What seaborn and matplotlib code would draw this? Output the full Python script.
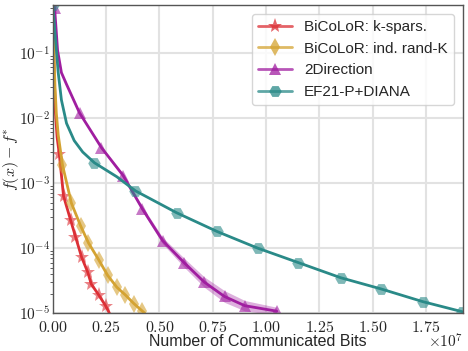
import numpy as np
import pandas as pd
import seaborn as sns
import matplotlib
matplotlib.use("Agg")
import matplotlib.pyplot as plt
from matplotlib.ticker import FuncFormatter, FixedLocator

# x in units of 1e7 communicated bits, y = f(x) - f*
red_x = [0.0, 0.004, 0.008, 0.012, 0.02, 0.03, 0.05, 0.083, 0.106, 0.135, 0.163, 0.18, 0.215, 0.247, 0.265]
red_y = [0.55, 0.12, 0.03, 0.012, 0.005, 2.8e-3, 6.3e-4, 2.7e-4, 1.5e-4, 7.2e-5, 4.3e-5, 2.8e-5, 1.9e-5, 1.3e-5, 1.0e-5]
red_mark = [5, 6, 7, 8, 9, 10, 11, 12, 13]

gold_x = [0.0, 0.004, 0.01, 0.016, 0.025, 0.045, 0.087, 0.13, 0.167, 0.215, 0.257, 0.3, 0.34, 0.38, 0.42, 0.43]
gold_y = [0.55, 0.12, 0.03, 0.012, 5.5e-3, 1.9e-3, 4.9e-4, 2.2e-4, 1.2e-4, 6.6e-5, 3.8e-5, 2.5e-5, 1.9e-5, 1.4e-5, 1.07e-5, 1.0e-5]
gold_mark = [5, 6, 7, 8, 9, 10, 11, 12, 13, 14]

purple_x = [0.0, 0.008, 0.022, 0.04, 0.064, 0.125, 0.228, 0.33, 0.42, 0.515, 0.617, 0.71, 0.805, 0.9, 1.05]
purple_y = [0.55, 0.5, 0.11, 0.05, 0.033, 0.012, 3.5e-3, 1.3e-3, 4.0e-4, 1.3e-4, 5.9e-5, 3.0e-5, 1.8e-5, 1.3e-5, 1.07e-5]
purple_spread = [0.0, 0.0, 0.0, 0.0, 0.0, 0.01, 0.02, 0.03, 0.04, 0.05, 0.07, 0.08, 0.09, 0.08, 0.06]
purple_mark = [1, 5, 6, 7, 8, 9, 10, 11, 12, 13, 14]

teal_x = [0.0, 0.01, 0.025, 0.04, 0.064, 0.1, 0.14, 0.195, 0.3, 0.387, 0.58, 0.77, 0.96, 1.15, 1.35, 1.54, 1.735, 1.92]
teal_y = [0.55, 0.2, 0.05, 0.019, 8.3e-3, 4.5e-3, 3.0e-3, 2.05e-3, 1.25e-3, 7.6e-4, 3.5e-4, 1.8e-4, 1.0e-4, 6.0e-5, 3.5e-5, 2.35e-5, 1.5e-5, 1.05e-5]
teal_mark = [0, 7, 9, 10, 11, 12, 13, 14, 15, 16, 17]

labels = ["BiCoLoR: k-spars.", "BiCoLoR: ind. rand-K", "2Direction", "EF21-P+DIANA"]
colors = ["#dc2f35", "#d4a332", "#a01ea0", "#2a8a88"]
markers = ["*", "d", "^", "H"]

sns.set_style("whitegrid")
plt.rcParams["font.family"] = ["Liberation Sans", "DejaVu Sans"]
plt.rcParams["mathtext.fontset"] = "cm"

fig = plt.figure(figsize=(4.68, 3.51), dpi=100)
ax = fig.add_axes([0.113, 0.108, 0.876, 0.878])

series = [(red_x, red_y, red_mark), (gold_x, gold_y, gold_mark),
          (purple_x, purple_y, purple_mark), (teal_x, teal_y, teal_mark)]
for (xs, ys, mk), lab, c, m in zip(series, labels, colors, markers):
    df = pd.DataFrame({"bits": xs, "gap": ys})
    ms = 11 if m == "*" else 9
    sns.lineplot(data=df, x="bits", y="gap", ax=ax, color=c, label=lab,
                 linewidth=2, marker=m, markersize=ms, markevery=mk,
                 markeredgewidth=0, estimator=None, sort=False)
    ax.lines[-1].set_markerfacecolor(matplotlib.colors.to_rgba(c, 0.6))

# shaded spread for 2Direction (in decades)
py = np.array(purple_y)
sp = np.array(purple_spread)
ax.fill_between(purple_x, py * 10 ** (-sp), py * 10 ** sp, color=colors[2], alpha=0.35, linewidth=0)

ax.set_yscale("log")
ax.set_xlim(0, 1.923)
ax.set_ylim(1e-5, 0.55)
ax.xaxis.set_major_locator(FixedLocator([0, 0.25, 0.5, 0.75, 1.0, 1.25, 1.5, 1.75]))
ax.xaxis.set_major_formatter(FuncFormatter(lambda v, p: r"$%.2f$" % v))
ax.yaxis.set_major_formatter(FuncFormatter(lambda v, p: r"$10^{%d}$" % round(np.log10(v))))
ax.tick_params(axis="x", which="major", labelsize=11.5, length=0, pad=5)
ax.tick_params(axis="y", which="major", labelsize=11, length=0, pad=2)
ax.tick_params(axis="y", which="minor", left=True, length=2, color="#444444")
ax.grid(True, which="major", color="#e2e2e2", linewidth=1.5)
ax.grid(False, which="minor")
for s in ax.spines.values():
    s.set_color("#555555")
    s.set_linewidth(1.0)

ax.set_xlabel("Number of Communicated Bits", fontsize=11.5, labelpad=-1)
ax.set_ylabel(r"$f(x) - f^{*}$", fontsize=11.5)
ax.yaxis.set_label_coords(-0.078, 0.5)
ax.text(1.0, -0.063, r"$\times10^{7}$", transform=ax.transAxes, ha="right", va="top", fontsize=11)

leg = ax.legend(loc="upper right", fontsize=11, frameon=True, framealpha=0.8,
                borderaxespad=0.6, handlelength=2.2)
for h in leg.get_lines():
    h.set_alpha(0.75)

fig.savefig("out.png", dpi=100)
